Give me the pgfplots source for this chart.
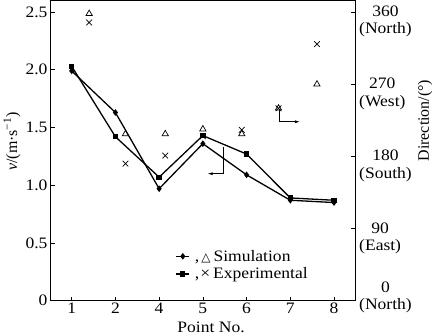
\documentclass[border=0pt]{standalone}
\usepackage{pgfplots}
\pgfplotsset{compat=1.18}
\usetikzlibrary{arrows.meta}
\usepackage{fontspec}
\setmainfont{Liberation Serif}[FakeStretch=1.1]
\newfontfamily\plainserif{Liberation Serif}
\newfontfamily\symfont{DejaVu Sans}
\newcommand{\rlab}[3]{\raisebox{#3}{\begin{tabular}{@{}c@{}}#1\\(#2)\end{tabular}}}
\begin{document}
\begin{tikzpicture}[font=\fontsize{16}{17.5}\selectfont]
\pgfplotsset{
  base/.style={
    scale only axis, width=304.3bp, height=300.2bp,
    xmin=-0.48, xmax=6.48,
    /pgf/number format/assume math mode=true,
    tick align=inside, major tick length=4bp,
    every tick/.style={black, line width=0.7bp},
    axis line style={line width=0.8bp},
    tick label style={font=\fontsize{16}{17.5}\selectfont},
    label style={font=\plainserif\fontsize{16}{17.5}\selectfont},
  }
}
\begin{axis}[base, name=ax,
  ymin=0, ymax=2.6,
  xtick={0,...,6}, xticklabels={1,2,4,5,6,7,8},
  ytick={0,0.5,1,1.5,2,2.5}, yticklabels={0,0.5,1.0,1.5,2.0,2.5},
  xtick pos=lower, ytick pos=left,
  xticklabel style={inner sep=2bp},
  yticklabel style={inner sep=3bp},
  xlabel={Point No.},
  xlabel style={at={(axis description cs:0.527,-0.069)}, anchor=north, inner sep=0pt, font=\rmfamily\fontsize{16}{17.5}\selectfont},
  ylabel={\textit{v}/(m·s\textsuperscript{−1})},
  ylabel style={at={(axis description cs:-0.127,0.53)}, anchor=center},
  legend style={at={(axis description cs:0.41,0.176)}, anchor=north west,
    draw=none, fill=none, inner sep=0pt, row sep=1bp,
    nodes={inner sep=2bp}, font=\fontsize{16}{17.5}\selectfont},
  legend cell align=left,
  legend image code/.code={\draw[mark repeat=2,mark phase=2,#1] plot coordinates {(0bp,0bp)(6.5bp,0bp)(13bp,0bp)};},
]
\addplot[black, line width=1.3bp, mark=diamond*, mark size=2.3bp, mark options={solid}]
  coordinates {(0,1.99)(1,1.63)(2,0.97)(3,1.36)(4,1.09)(5,0.87)(6,0.85)};
\addlegendentry{\hspace{3bp},\hspace{2bp}{\symfont\fontsize{12}{12}\selectfont △}\hspace{3bp}Simulation}
\addplot[black, line width=1.3bp, mark=square*, mark size=2bp, mark options={solid}]
  coordinates {(0,2.03)(1,1.42)(2,1.07)(3,1.43)(4,1.27)(5,0.89)(6,0.87)};
\addlegendentry{\hspace{3bp},\hspace{1bp}×\hspace{3bp}Experimental}
\draw[line width=0.7bp, -{Latex[length=5bp,width=3bp]}] (axis cs:3.48,1.33) -- (axis cs:3.48,1.10) -- (axis cs:3.11,1.10);
\draw[line width=0.7bp, -{Latex[length=5bp,width=3bp]}] (axis cs:4.76,1.65) -- (axis cs:4.76,1.55) -- (axis cs:5.22,1.55);
\end{axis}
\begin{axis}[base,
  ymin=0, ymax=374.4,
  axis x line=none, axis y line*=right,
  ytick={0,90,180,270,360},
  yticklabels={\rlab{0}{North}{-1bp},\rlab{90}{East}{-14bp},\rlab{180}{South}{-14bp},\rlab{270}{West}{-14bp},\rlab{360}{North}{-14bp}},
  yticklabel style={anchor=base west, inner sep=4bp},
  ylabel={Direction/(°)},
  ylabel style={at={(axis description cs:1.23,0.60)}, anchor=center},
]
\addplot[only marks, black, mark=triangle, mark size=3.6bp, mark options={line width=0.7bp}]
  coordinates {(0.40,358)(1.23,208)(2.14,208)(3.0,214)(3.89,208)(4.73,240)(5.61,270)};
\addplot[only marks, black, mark=x, mark size=4bp, mark options={line width=0.7bp}]
  coordinates {(0.40,347)(1.23,171)(2.14,181)(3.0,205)(3.89,213)(4.73,240)(5.61,320)};
\end{axis}
\pgfresetboundingbox
\path[use as bounding box] ([shift={(-50.7bp,-35.3bp)}]ax.south west) rectangle ([shift={(79bp,0.5bp)}]ax.north east);
\end{tikzpicture}
\end{document}
